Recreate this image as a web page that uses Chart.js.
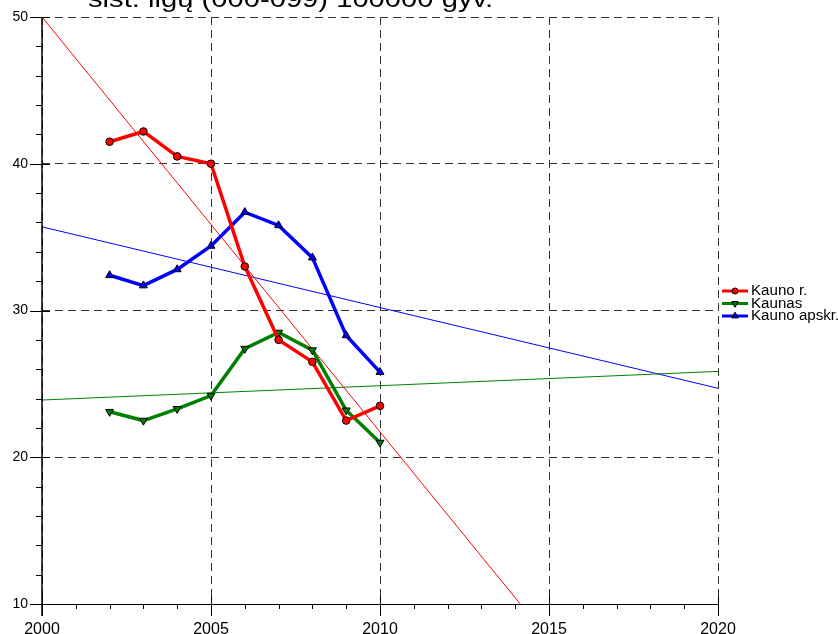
<!DOCTYPE html>
<html>
<head>
<meta charset="utf-8">
<script src="https://cdn.jsdelivr.net/npm/chart.js@4.4.0/dist/chart.umd.min.js"></script>
<style>
    html, body { margin: 0; padding: 0; background: #fff; }
    #wrap { width: 838px; height: 634px; }
</style>
</head>
<body>
<div id="wrap"><canvas id="chart" width="838" height="634"></canvas></div>
<script>
const titleText = "sist. ligų (000-099) 100000 gyv.";

const years = [2002, 2003, 2004, 2005, 2006, 2007, 2008, 2009, 2010];
const kaunoR = [41.5, 42.2, 40.5, 40.0, 33.0, 28.0, 26.5, 22.5, 23.5];
const kaunas = [23.1, 22.5, 23.3, 24.2, 27.4, 28.5, 27.3, 23.2, 21.0];
const kaunoApskr = [32.4, 31.7, 32.8, 34.4, 36.7, 35.8, 33.6, 28.3, 25.8];

const seriesNames = ["Kauno r.", "Kaunas", "Kauno apskr."];
const seriesColors = ["#ff0000", "#008000", "#0000ff"];

// trend lines, end points
const trendYears = [[2000, 2014.15], [2000, 2020], [2000, 2020]];
const trendValues = [[50, 10], [23.9, 25.85], [35.7, 24.7]];

const FONT = "Arial, 'Liberation Sans', sans-serif";

function toPoints(xs, ys) {
    return xs.map((x, i) => ({ x: x, y: ys[i] }));
}

const seriesValues = [kaunoR, kaunas, kaunoApskr];
const markerStyles = [
    { pointStyle: "circle", radius: 3.8, rotation: 0 },
    { pointStyle: "triangle", radius: 4.6, rotation: 180 },
    { pointStyle: "triangle", radius: 4.6, rotation: 0 }
];

const datasets = [];
seriesValues.forEach((vals, i) => {
    datasets.push({
        label: seriesNames[i],
        data: toPoints(years, vals),
        borderColor: seriesColors[i],
        backgroundColor: seriesColors[i],
        borderWidth: 3.5,
        pointStyle: markerStyles[i].pointStyle,
        pointRadius: markerStyles[i].radius,
        pointRotation: markerStyles[i].rotation,
        pointBackgroundColor: seriesColors[i],
        pointBorderColor: "#000",
        pointBorderWidth: 1,
        tension: 0
    });
});
trendValues.forEach((vals, i) => {
    datasets.push({
        label: seriesNames[i] + " trend",
        data: toPoints(trendYears[i], vals),
        borderColor: seriesColors[i],
        borderWidth: 1,
        pointRadius: 0,
        tension: 0
    });
});

// draws text squeezed/stretched to a given width
function wideText(ctx, text, x, y, width) {
    const w = ctx.measureText(text).width;
    ctx.save();
    ctx.translate(x, y);
    ctx.scale(width / w, 1);
    ctx.fillText(text, 0, 0);
    ctx.restore();
}

// axis tick marks, title line and legend on the right
const decorPlugin = {
    id: "decor",
    afterDraw(chart) {
        const ctx = chart.ctx;
        const xs = chart.scales.x, ys = chart.scales.y;
        const area = chart.chartArea;
        ctx.save();

        // axis lines
        ctx.strokeStyle = "#000";
        ctx.lineWidth = 1;
        ctx.beginPath();
        ctx.moveTo(area.left, area.bottom + 0.5);
        ctx.lineTo(area.right, area.bottom + 0.5);
        ctx.stroke();
        ctx.lineWidth = 1.5;
        ctx.beginPath();
        ctx.moveTo(area.left, area.top);
        ctx.lineTo(area.left, area.bottom + 12);
        ctx.stroke();

        // x ticks
        ctx.lineWidth = 1;
        for (let v = 2000; v <= 2020; v++) {
            const px = Math.round(xs.getPixelForValue(v)) + 0.5;
            ctx.beginPath();
            if (v % 5 === 0) {
                ctx.moveTo(px, area.bottom - 8);
                ctx.lineTo(px, area.bottom + 12);
            } else {
                ctx.moveTo(px, area.bottom);
                ctx.lineTo(px, area.bottom + 5);
            }
            ctx.stroke();
        }
        // y ticks
        for (let v = 10; v <= 50; v += 2) {
            const py = Math.round(ys.getPixelForValue(v)) + 0.5;
            ctx.beginPath();
            if (v % 10 === 0) {
                ctx.moveTo(area.left - 12, py);
                ctx.lineTo(area.left + 8, py);
            } else {
                ctx.moveTo(area.left - 6, py);
                ctx.lineTo(area.left, py);
            }
            ctx.stroke();
        }

        // title (only its lower line shows)
        ctx.fillStyle = "#000";
        ctx.font = "24px " + FONT;
        ctx.textBaseline = "alphabetic";
        ctx.textAlign = "left";
        wideText(ctx, titleText, 88, 7, 405);

        // legend
        const legendY = [291, 303.5, 316];
        ctx.font = "14px " + FONT;
        ctx.textBaseline = "middle";
        seriesNames.forEach((name, i) => {
            const y = legendY[i];
            ctx.strokeStyle = seriesColors[i];
            ctx.lineWidth = 3;
            ctx.beginPath();
            ctx.moveTo(722, y);
            ctx.lineTo(748, y);
            ctx.stroke();
            ctx.fillStyle = seriesColors[i];
            ctx.strokeStyle = "#000";
            ctx.lineWidth = 1;
            Chart.helpers.drawPoint(ctx, {
                pointStyle: markerStyles[i].pointStyle,
                radius: markerStyles[i].radius - 0.8,
                rotation: markerStyles[i].rotation,
                borderWidth: 1
            }, 735, y);
            ctx.fillStyle = "#000";
            const w = ctx.measureText(name).width;
            wideText(ctx, name, 751, y + 0.5, w * 1.08);
        });
        ctx.restore();
    }
};

const ctx = document.getElementById("chart").getContext("2d");
new Chart(ctx, {
    type: "line",
    data: { datasets: datasets },
    options: {
        responsive: false,
        animation: false,
        devicePixelRatio: 1,
        layout: { padding: { top: 17, right: 120, left: 0, bottom: 0 } },
        plugins: {
            legend: { display: false },
            tooltip: { enabled: false }
        },
        scales: {
            x: {
                type: "linear",
                min: 2000,
                max: 2020,
                afterFit: (scale) => { scale.height = 30; },
                ticks: {
                    stepSize: 5,
                    autoSkip: false,
                    maxRotation: 0,
                    padding: 2,
                    color: "#000",
                    font: { family: FONT, size: 16 },
                    callback: (v) => String(v)
                },
                grid: {
                    color: "#333",
                    tickLength: 14,
                    tickColor: "rgba(0,0,0,0)"
                },
                border: { display: false, dash: [8, 5] }
            },
            y: {
                min: 10,
                max: 50,
                afterFit: (scale) => { scale.width = 42; },
                ticks: {
                    stepSize: 10,
                    autoSkip: false,
                    padding: 2,
                    color: "#000",
                    font: { family: FONT, size: 14 },
                    callback: (v) => String(v)
                },
                grid: {
                    color: "#333",
                    tickLength: 12,
                    tickColor: "rgba(0,0,0,0)"
                },
                border: { display: false, dash: [8, 5] }
            }
        }
    },
    plugins: [decorPlugin]
});
</script>
</body>
</html>
